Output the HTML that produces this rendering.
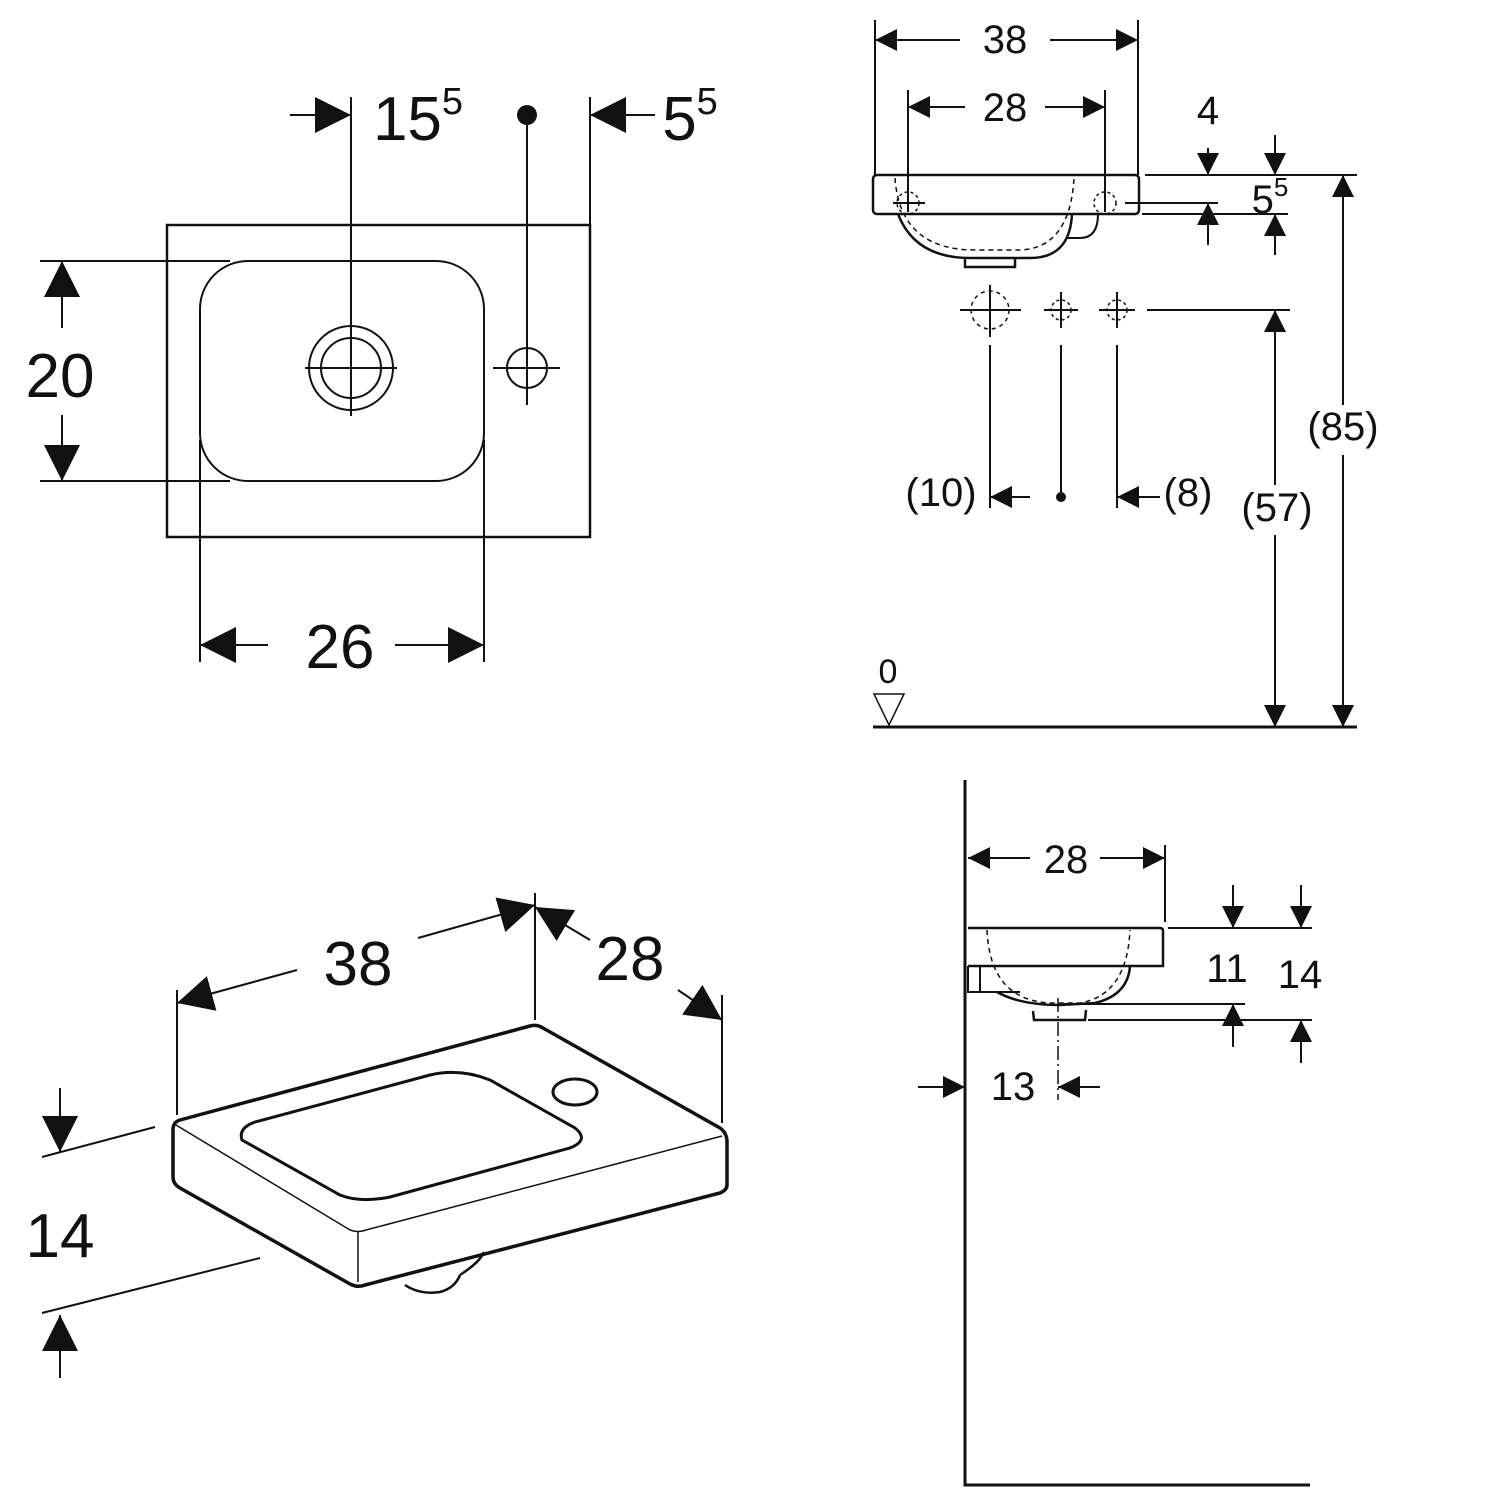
<!DOCTYPE html>
<html><head><meta charset="utf-8"><style>
html,body{margin:0;padding:0;background:#fff;}
svg{display:block;}
text{font-family:"Liberation Sans",sans-serif;fill:#111;}
</style></head><body>
<svg width="1500" height="1500" viewBox="0 0 1500 1500" xmlns="http://www.w3.org/2000/svg">
<defs>
<marker id="A" viewBox="0 0 10 10" refX="10" refY="5" markerWidth="36" markerHeight="38" markerUnits="userSpaceOnUse" orient="auto"><path d="M0,0L10,5L0,10z" fill="#111"/></marker>
<marker id="S" viewBox="0 0 10 10" refX="10" refY="5" markerWidth="24" markerHeight="22" markerUnits="userSpaceOnUse" orient="auto"><path d="M0,0L10,5L0,10z" fill="#111"/></marker>
</defs>
<g stroke="#111" fill="none" stroke-width="2">
<!-- TOP LEFT -->
<rect x="167" y="225" width="423" height="312" stroke-width="2.5"/>
<rect x="200" y="261" width="284" height="220" rx="48"/>
<line x1="40" y1="261" x2="230" y2="261"/><line x1="40" y1="481" x2="230" y2="481"/>
<line x1="200" y1="440" x2="200" y2="662"/><line x1="484" y1="440" x2="484" y2="662"/>
<circle cx="351" cy="368" r="42"/><circle cx="351" cy="368" r="30"/>
<line x1="351" y1="97" x2="351" y2="416"/><line x1="305" y1="368" x2="397" y2="368"/>
<circle cx="527" cy="368" r="20"/><line x1="527" y1="115" x2="527" y2="405"/><line x1="493" y1="368" x2="560" y2="368"/>
<line x1="590" y1="97" x2="590" y2="225"/>
<line x1="290" y1="115" x2="351" y2="115" marker-end="url(#A)"/>
<line x1="655" y1="115" x2="590" y2="115" marker-end="url(#A)"/>
<line x1="62" y1="328" x2="62" y2="261" marker-end="url(#A)"/>
<line x1="62" y1="415" x2="62" y2="481" marker-end="url(#A)"/>
<line x1="268" y1="645" x2="200" y2="645" marker-end="url(#A)"/>
<line x1="395" y1="645" x2="484" y2="645" marker-end="url(#A)"/>
<!-- TOP RIGHT -->
<line x1="875" y1="20" x2="875" y2="175"/><line x1="1138" y1="20" x2="1138" y2="175"/>
<line x1="960" y1="40" x2="875" y2="40" marker-end="url(#S)"/><line x1="1050" y1="40" x2="1138" y2="40" marker-end="url(#S)"/>
<line x1="908" y1="90" x2="908" y2="212"/><line x1="1105" y1="90" x2="1105" y2="212"/>
<line x1="965" y1="107" x2="908" y2="107" marker-end="url(#S)"/><line x1="1045" y1="107" x2="1105" y2="107" marker-end="url(#S)"/>
<rect x="873" y="175" width="266" height="39" rx="4" stroke-width="2.5"/>
<path d="M898,214 Q915,258 970,258 L1030,258 Q1070,258 1072,214" stroke-width="2.5"/>
<path d="M965,257 L965,267 L1015,267 L1015,257" stroke-width="2.5"/>
<path d="M1072,214 L1098,214 Q1098,238 1080,238 L1066,238" stroke-width="2"/>
<path d="M895,178 Q900,250 975,250 L1020,250 Q1070,248 1074,178" stroke-dasharray="5,4" stroke-width="1.5"/>
<circle cx="908" cy="203" r="11" stroke-dasharray="3,3" stroke-width="1.5"/><line x1="893" y1="203" x2="925" y2="203"/>
<circle cx="1105" cy="203" r="11" stroke-dasharray="3,3" stroke-width="1.5"/>
<line x1="1125" y1="203" x2="1218" y2="203"/>
<line x1="1145" y1="175" x2="1357" y2="175"/><line x1="1142" y1="214" x2="1288" y2="214"/>
<line x1="1208" y1="148" x2="1208" y2="175" marker-end="url(#S)"/>
<line x1="1208" y1="245" x2="1208" y2="203" marker-end="url(#S)"/>
<line x1="1275" y1="135" x2="1275" y2="175" marker-end="url(#S)"/>
<line x1="1275" y1="255" x2="1275" y2="214" marker-end="url(#S)"/>
<circle cx="990" cy="310" r="19" stroke-dasharray="4,4" stroke-width="1.5"/>
<line x1="960" y1="310" x2="1021" y2="310"/><line x1="990" y1="285" x2="990" y2="337"/>
<circle cx="1061" cy="310" r="10" stroke-dasharray="3,3" stroke-width="1.5"/>
<line x1="1044" y1="310" x2="1078" y2="310"/><line x1="1061" y1="292" x2="1061" y2="328"/>
<circle cx="1117" cy="310" r="10" stroke-dasharray="3,3" stroke-width="1.5"/>
<line x1="1099" y1="310" x2="1135" y2="310"/><line x1="1117" y1="292" x2="1117" y2="328"/>
<line x1="1147" y1="310" x2="1290" y2="310"/>
<line x1="990" y1="345" x2="990" y2="508"/><line x1="1061" y1="345" x2="1061" y2="497"/><line x1="1117" y1="345" x2="1117" y2="508"/>
<line x1="1030" y1="497" x2="990" y2="497" marker-end="url(#S)"/>
<line x1="1160" y1="497" x2="1117" y2="497" marker-end="url(#S)"/>
<line x1="1275" y1="485" x2="1275" y2="310" marker-end="url(#S)"/>
<line x1="1275" y1="535" x2="1275" y2="727" marker-end="url(#S)"/>
<line x1="1343" y1="405" x2="1343" y2="175" marker-end="url(#S)"/>
<line x1="1343" y1="455" x2="1343" y2="727" marker-end="url(#S)"/>
<line x1="873" y1="727" x2="1357" y2="727" stroke-width="3"/>
<path d="M874,694 L904,694 L889,725 Z" stroke-width="1.5"/>
<!-- BOTTOM RIGHT -->
<path d="M965,780 L965,1485 L1310,1485" stroke-width="3"/>
<line x1="1165" y1="845" x2="1165" y2="922"/>
<line x1="1030" y1="858" x2="968" y2="858" marker-end="url(#S)"/>
<line x1="1100" y1="858" x2="1165" y2="858" marker-end="url(#S)"/>
<path d="M968,928 L1160,928 Q1163,928 1163,931 L1163,966 L968,966" stroke-width="2.5"/>
<path d="M968,966 L968,992 L1020,992 M980,966 L980,992"/>
<path d="M997,992 Q1020,1005 1060,1005 L1095,1003 Q1128,995 1130,966" stroke-width="2.5"/>
<path d="M1033,1011 L1034,1020 L1085,1020 L1086,1010" stroke-width="2.5"/>
<path d="M987,930 Q990,1000 1050,1003 L1080,1003 Q1127,995 1130,930" stroke-dasharray="5,4" stroke-width="1.5"/>
<line x1="1058" y1="998" x2="1058" y2="1100" stroke-dasharray="14,4,2,4" stroke-width="1.5"/>
<line x1="1168" y1="928" x2="1312" y2="928"/>
<line x1="1063" y1="1004" x2="1245" y2="1004"/>
<line x1="1088" y1="1020" x2="1312" y2="1020"/>
<line x1="1233" y1="885" x2="1233" y2="928" marker-end="url(#S)"/>
<line x1="1233" y1="1047" x2="1233" y2="1004" marker-end="url(#S)"/>
<line x1="1301" y1="885" x2="1301" y2="928" marker-end="url(#S)"/>
<line x1="1301" y1="1063" x2="1301" y2="1020" marker-end="url(#S)"/>
<line x1="918" y1="1087" x2="965" y2="1087" marker-end="url(#S)"/>
<line x1="1100" y1="1087" x2="1058" y2="1087" marker-end="url(#S)"/>
<!-- BOTTOM LEFT ISO -->
<path d="M173,1130 Q173,1122 180,1120 L530,1026 Q537,1024 543,1028 L720,1128 Q727,1133 727,1142 L727,1185 Q727,1190 720,1193 L365,1285 Q358,1288 350,1284 L180,1188 Q173,1184 173,1177 Z" stroke-width="3.5"/>
<path d="M176,1125 L350,1230 Q358,1233 366,1230 L722,1136" stroke-width="1.5"/>
<line x1="358" y1="1232" x2="358" y2="1282" stroke-width="1.5"/>
<path d="M242,1140 Q238,1128 255,1122 L430,1075 Q460,1068 490,1080 L575,1128 Q590,1140 570,1148 L390,1197 Q360,1203 340,1195 Z" stroke-width="3"/>
<ellipse cx="575" cy="1092" rx="22" ry="13" stroke-width="3"/>
<path d="M405,1285 Q420,1295 440,1292 Q455,1288 460,1275" stroke-width="2.5"/>
<path d="M460,1275 Q480,1262 484,1252" stroke-width="2.5"/>
<line x1="177" y1="990" x2="177" y2="1115"/>
<line x1="535" y1="893" x2="535" y2="1020"/>
<line x1="722" y1="995" x2="722" y2="1123"/>
<line x1="297" y1="970" x2="177" y2="1003" marker-end="url(#A)"/>
<line x1="418" y1="938" x2="535" y2="905" marker-end="url(#A)"/>
<line x1="590" y1="940" x2="535" y2="907" marker-end="url(#A)"/>
<line x1="678" y1="990" x2="722" y2="1020" marker-end="url(#A)"/>
<line x1="42" y1="1157" x2="155" y2="1127"/>
<line x1="42" y1="1313" x2="260" y2="1258"/>
<line x1="60" y1="1088" x2="60" y2="1152" marker-end="url(#A)"/>
<line x1="60" y1="1378" x2="60" y2="1315" marker-end="url(#A)"/>
</g>
<g fill="#111" stroke="none">
<circle cx="527" cy="115" r="10"/>
<circle cx="1061" cy="497" r="5"/>
</g>
<g font-size="62" text-anchor="middle">
<text x="418" y="140">15<tspan font-size="38" dy="-26">5</tspan></text>
<text x="690" y="140">5<tspan font-size="38" dy="-26">5</tspan></text>
<text x="60" y="397">20</text>
<text x="340" y="668">26</text>
<text x="358" y="985">38</text>
<text x="630" y="980">28</text>
<text x="60" y="1257">14</text>
</g>
<g font-size="40" text-anchor="middle">
<text x="1005" y="53">38</text>
<text x="1005" y="121">28</text>
<text x="1208" y="124">4</text>
<text x="1270" y="213">5<tspan font-size="26" dy="-17">5</tspan></text>
<text x="1343" y="440">(85)</text>
<text x="1277" y="521">(57)</text>
<text x="941" y="506">(10)</text>
<text x="1188" y="506">(8)</text>
<text x="888" y="683" font-size="34">0</text>
<text x="1066" y="873">28</text>
<text x="1227" y="982">11</text>
<text x="1300" y="988">14</text>
<text x="1013" y="1100">13</text>
</g>
</svg>
</body></html>
